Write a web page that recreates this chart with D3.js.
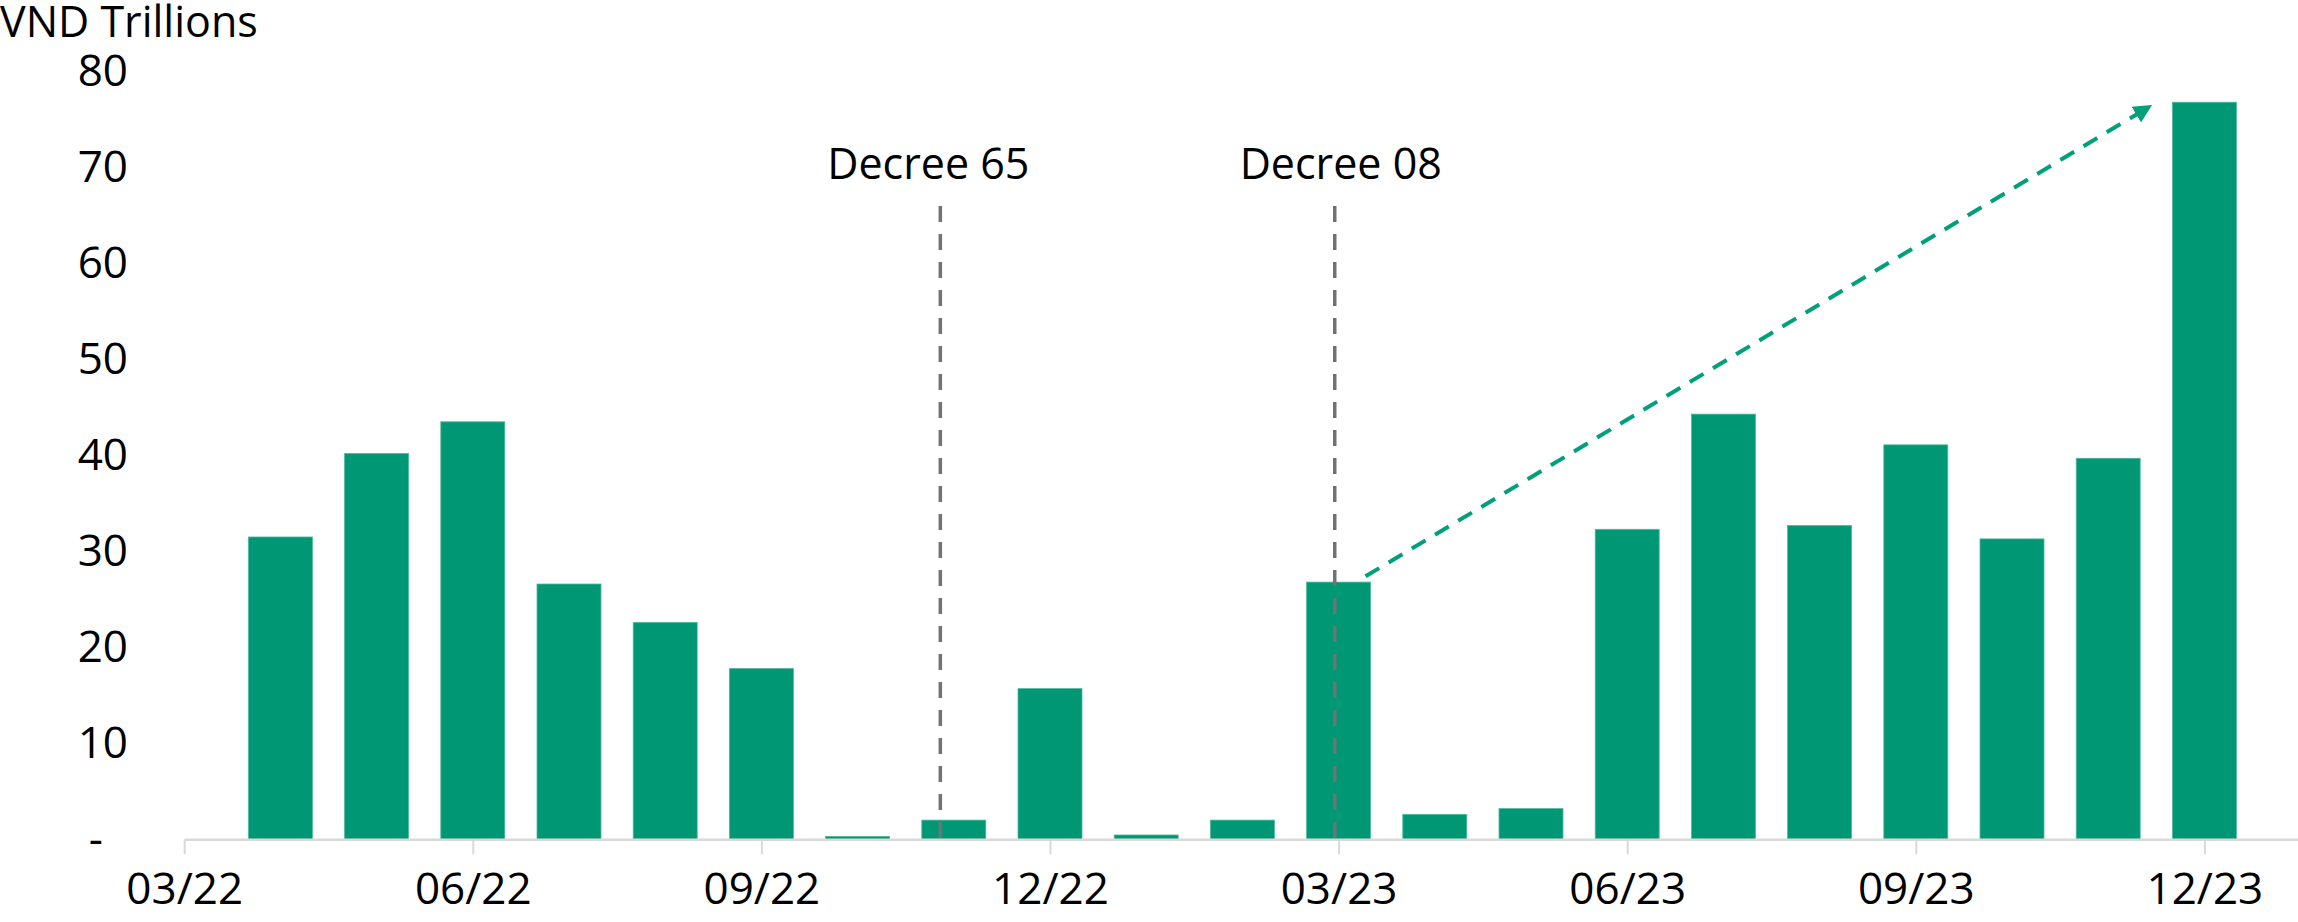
<!DOCTYPE html>
<html>
<head>
<meta charset="utf-8">
<script src="https://cdn.jsdelivr.net/npm/d3@7"></script>
<style>
  html, body { margin: 0; padding: 0; background: #fff; }
  svg { display: block; }
  text { font-family: "Open Sans", "Noto Sans", sans-serif; fill: #000; }
</style>
</head>
<body>
<svg id="chart" width="2298" height="922"></svg>
<script>
// Monthly values, VND trillions
const months = ["04/22","05/22","06/22","07/22","08/22","09/22","10/22","11/22","12/22",
                "01/23","02/23","03/23","04/23","05/23","06/23","07/23","08/23","09/23",
                "10/23","11/23","12/23"];
const values = [31.5, 40.2, 43.5, 26.6, 22.6, 17.8, 0.3, 2.0, 15.7,
                0.45, 2.0, 26.8, 2.6, 3.2, 32.3, 44.3, 32.7, 41.1,
                31.3, 39.7, 76.8];

// Axis labels
const xTickLabels = ["03/22","06/22","09/22","12/22","03/23","06/23","09/23","12/23"];
const yTicks = [0, 10, 20, 30, 40, 50, 60, 70, 80];
const yTitle = "VND Trillions";

// Policy markers (position in months counted from 03/22)
const eventLabels = ["Decree 65", "Decree 08"];
const eventMonths = [7.86, 11.96];

// Trend arrow from the 03/23 bar towards the 12/23 bar: [month position, value]
const arrowStart = [12.28, 27.4];
const arrowEnd = [20.44, 76.4];

// month label "MM/YY" -> months since 03/22
const monthIndex = s => {
  const [mm, yy] = s.split("/").map(Number);
  return (yy - 22) * 12 + (mm - 3);
};

const svg = d3.select("#chart");
const green = "#009874";
const fontSize = 43;
const fontFamily = "'Open Sans', 'Noto Sans', sans-serif";

const x = d3.scaleLinear().domain([0, 22]).range([184.2, 2300.6]);
const y = d3.scaleLinear().domain([0, 80]).range([839.3, 71.5]);
const barW = 64;

// bars
svg.append("g").selectAll("rect")
  .data(months.map((m, i) => ({ m, v: values[i] })))
  .join("rect")
  .attr("x", d => x(monthIndex(d.m)) - barW / 2)
  .attr("y", d => y(d.v))
  .attr("width", barW)
  .attr("height", d => y(0) - y(d.v))
  .attr("fill", green)
  .attr("stroke", "#4fb99b")
  .attr("stroke-width", 0.8);

// x axis
const xTickPos = xTickLabels.map(monthIndex);
const xAxis = d3.axisBottom(x)
  .tickValues(xTickPos)
  .tickFormat(v => xTickLabels[xTickPos.indexOf(v)])
  .tickSizeInner(15)
  .tickSizeOuter(0)
  .tickPadding(18);
const gx = svg.append("g").attr("transform", `translate(0,${y(0)})`).call(xAxis);
gx.select(".domain").attr("stroke", "#d9d9d9").attr("stroke-width", 2.5);
gx.selectAll(".tick line").attr("stroke", "#d9d9d9").attr("stroke-width", 2);
gx.selectAll(".tick text")
  .attr("font-size", 44)
  .attr("font-family", fontFamily)
  .attr("fill", "#000");

// y axis (labels only)
const yAxis = d3.axisLeft(y)
  .tickValues(yTicks)
  .tickFormat(v => v === 0 ? "-\u2007" : String(v))
  .tickSize(0)
  .tickPadding(0);
const gy = svg.append("g").attr("transform", "translate(128,0)").call(yAxis);
gy.select(".domain").remove();
gy.selectAll(".tick text")
  .attr("font-size", 44)
  .attr("font-family", fontFamily)
  .attr("fill", "#000");

// axis title
svg.append("text")
  .attr("x", 0)
  .attr("y", 37)
  .attr("font-size", fontSize)
  .text(yTitle);

// policy markers; labels nudged so they sit as in the source layout
const labelShift = [-12, 6];
const ev = svg.append("g");
eventLabels.forEach((label, i) => {
  const px = x(eventMonths[i]);
  ev.append("line")
    .attr("x1", px).attr("x2", px)
    .attr("y1", 206).attr("y2", y(0))
    .attr("stroke", "#707276")
    .attr("stroke-width", 3.5)
    .attr("stroke-dasharray", "16,12");
  ev.append("text")
    .attr("x", px + labelShift[i])
    .attr("y", 179)
    .attr("text-anchor", "middle")
    .attr("font-size", fontSize)
    .text(label);
});

// trend arrow
svg.append("defs").append("marker")
  .attr("id", "arrowhead")
  .attr("viewBox", "0 0 10 10")
  .attr("refX", 9).attr("refY", 5)
  .attr("markerWidth", 4.6).attr("markerHeight", 4.6)
  .attr("markerUnits", "strokeWidth")
  .attr("orient", "auto")
  .append("path")
  .attr("d", "M0,0 L10,5 L0,10 Z")
  .attr("fill", "#00a07a");

svg.append("line")
  .attr("x1", x(arrowStart[0])).attr("y1", y(arrowStart[1]))
  .attr("x2", x(arrowEnd[0])).attr("y2", y(arrowEnd[1]))
  .attr("stroke", "#00a07a")
  .attr("stroke-width", 4)
  .attr("stroke-dasharray", "16,11")
  .attr("marker-end", "url(#arrowhead)");
</script>
</body>
</html>
